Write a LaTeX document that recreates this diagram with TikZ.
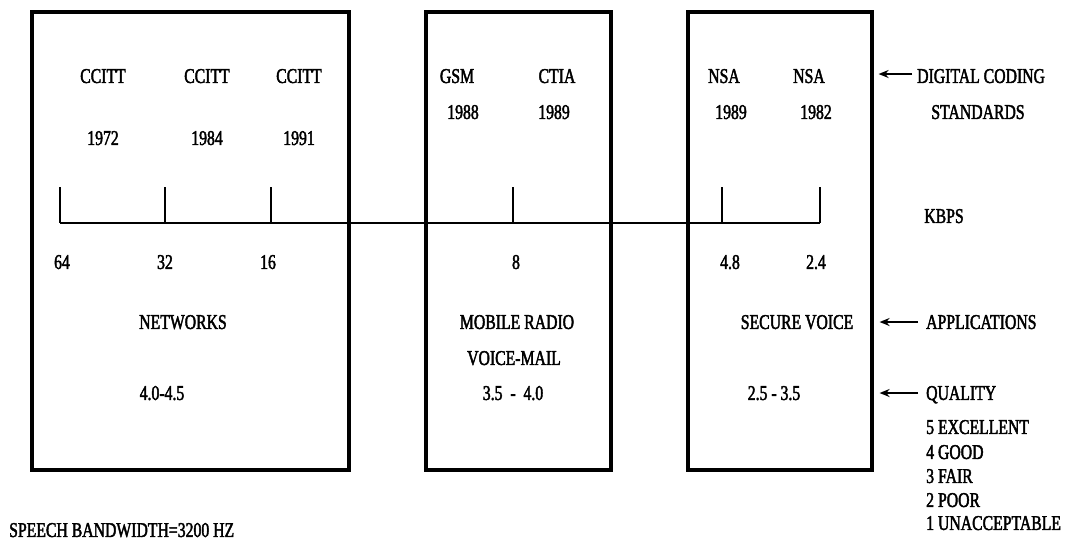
\documentclass[tikz,border=0pt]{standalone}
\usepackage{fontspec}
\setmainfont{Liberation Serif}[FakeStretch=0.75,FakeBold=2]
\usetikzlibrary{arrows.meta}
\begin{document}
\begin{tikzpicture}[x=1pt,y=-1pt,
  lbl/.style={inner sep=0pt,text height=13.9pt,text depth=0pt,font=\fontsize{21}{24}\selectfont},
  box/.style={draw,line width=3.2pt,inner sep=0pt},
  axis/.style={line width=2.2pt},
  ptr/.style={line width=2pt,-{Stealth[length=10pt,width=8pt]}}]
\useasboundingbox (0,0) rectangle (1065,542);
% boxes
\node[box,minimum width=317pt,minimum height=458pt] (b1) at (190.5,241) {};
\node[box,minimum width=185pt,minimum height=458pt] (b2) at (518.5,241) {};
\node[box,minimum width=184pt,minimum height=458pt] (b3) at (780,241) {};
% axis
\coordinate (a0) at (60,223);
\coordinate (a6) at (820,223);
\coordinate (k1) at (60,187);
\coordinate (k2) at (165,187);
\coordinate (k3) at (271,187);
\coordinate (k4) at (513,187);
\coordinate (k5) at (722,187);
\coordinate (k6) at (820,187);
\draw[axis] (a0) -- (a6);
\foreach \k in {k1,k2,k3,k4,k5,k6} \draw[axis] (\k) -- (\k |- a0);
% standards
\node[lbl] (s1) at (103,76) {CCITT};
\node[lbl] (s2) at (207,76) {CCITT};
\node[lbl] (s3) at (299,76) {CCITT};
\node[lbl] (s4) at (457,76) {GSM};
\node[lbl] (s5) at (557,76) {CTIA};
\node[lbl] (s6) at (724,76) {NSA};
\node[lbl] (s7) at (809,76) {NSA};
\node[lbl] (y1) at (103,138) {1972};
\node[lbl] (y2) at (207,138) {1984};
\node[lbl] (y3) at (299,138) {1991};
\node[lbl] (y4) at (463,112) {1988};
\node[lbl] (y5) at (554,112) {1989};
\node[lbl] (y6) at (731,112) {1989};
\node[lbl] (y7) at (816,112) {1982};
% rates
\node[lbl] (r1) at (62,262) {64};
\node[lbl] (r2) at (165,262) {32};
\node[lbl] (r3) at (268,262) {16};
\node[lbl] (r4) at (516,262) {8};
\node[lbl] (r5) at (730,262) {4.8};
\node[lbl] (r6) at (816,262) {2.4};
% applications
\node[lbl] (p1) at (183,322) {NETWORKS};
\node[lbl] (p2) at (517,322) {MOBILE RADIO};
\node[lbl] (p3) at (514,358) {VOICE-MAIL};
\node[lbl] (p4) at (797,322) {SECURE VOICE};
% quality
\node[lbl] (q1) at (162,393) {4.0-4.5};
\node[lbl] (q2) at (513,393) {3.5 \ - \ 4.0};
\node[lbl] (q3) at (774,393) {2.5 - 3.5};
% legend
\node[lbl,anchor=west] (dc) at (917,76) {DIGITAL CODING};
\node[lbl] (st) at (978,112) {STANDARDS};
\node[lbl] (kb) at (944,216) {KBPS};
\node[lbl,anchor=west] (ap) at (926,322) {APPLICATIONS};
\node[lbl,anchor=west] (ql) at (926,393) {QUALITY};
\node[lbl,anchor=west] (l5) at (926,427) {5 EXCELLENT};
\node[lbl,anchor=west] (l4) at (926,452) {4 GOOD};
\node[lbl,anchor=west] (l3) at (926,476) {3 FAIR};
\node[lbl,anchor=west] (l2) at (926,500) {2 POOR};
\node[lbl,anchor=west] (l1) at (926,523) {1 UNACCEPTABLE};
\node[lbl,anchor=west] (sb) at (9,530) {SPEECH BANDWIDTH=3200 HZ};
% pointers
\draw[ptr] ([xshift=-5pt]dc.west |- 0,74) -- ([xshift=5pt]b3.east |- 0,74);
\draw[ptr] ([xshift=-8pt]ap.west) -- ([xshift=6pt]b3.east |- ap);
\draw[ptr] ([xshift=-8pt]ql.west) -- ([xshift=6pt]b3.east |- ql);
\end{tikzpicture}
\end{document}
